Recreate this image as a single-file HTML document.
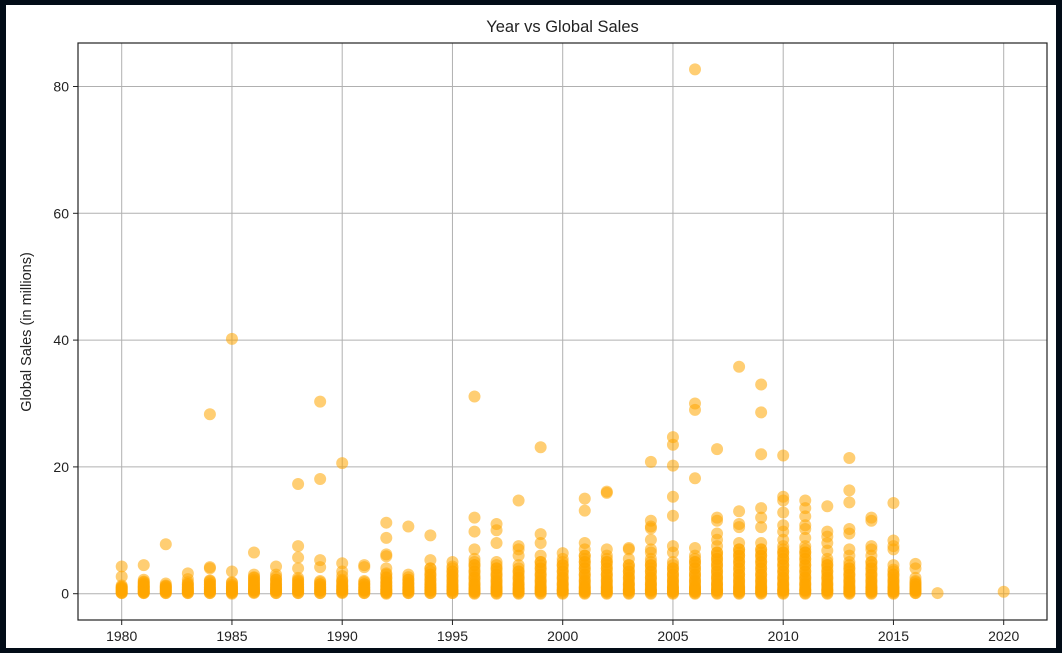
<!DOCTYPE html>
<html><head><meta charset="utf-8"><style>
html,body{margin:0;padding:0;background:#020c17;}
#wrap{position:absolute;left:0;top:0;width:1062px;height:653px;background:#020c17;}
svg{position:absolute;left:0;top:0;}
text{font-family:"Liberation Sans","DejaVu Sans",sans-serif;fill:#222;}
</style></head><body>
<div id="wrap">
<svg id="chart" width="1062" height="653"></svg>
</div>
<script>
const xTicks = [1980,1985,1990,1995,2000,2005,2010,2015,2020];
const yTicks = [0,20,40,60,80];
const years = [1980,1981,1982,1983,1984,1985,1986,1987,1988,1989,1990,1991,1992,1993,1994,1995,1996,1997,1998,1999,2000,2001,2002,2003,2004,2005,2006,2007,2008,2009,2010,2011,2012,2013,2014,2015,2016,2017,2020];
const salesByYear = [
[4.3,2.7,1.3,1.0,0.8,0.5,0.2,0.1],
[4.5,2.2,1.8,1.5,1.2,1.0,0.7,0.4,0.2,0.1],
[7.8,1.6,1.2,0.9,0.6,0.3,0.1],
[3.2,2.3,1.5,1.0,0.6,0.3,0.1],
[28.3,4.2,4.0,2.0,1.5,1.0,0.6,0.3,0.1],
[40.2,3.5,1.8,1.2,0.8,0.5,0.2,0.0],
[6.5,3.0,2.5,2.0,1.5,1.0,0.5,0.2],
[4.3,3.0,2.2,1.5,1.0,0.5,0.1],
[17.3,7.5,5.7,4.0,2.5,2.0,1.5,1.0,0.5,0.1],
[30.3,18.1,5.3,4.2,2.0,1.5,1.0,0.5,0.1],
[20.6,4.8,3.5,2.8,2.0,1.2,0.6,0.2],
[4.5,4.2,2.0,1.5,1.0,0.5,0.1],
[11.2,8.8,6.2,5.9,4.0,3.2,2.5,1.8,1.2,0.6,0.2,0.0],
[10.6,3.0,2.2,1.6,1.0,0.5,0.1],
[9.2,5.3,4.0,3.0,2.2,1.5,1.0,0.5,0.1],
[5.0,4.3,3.5,2.8,2.0,1.2,0.5,0.1],
[31.1,12.0,9.8,7.0,5.5,4.5,3.5,2.5,1.5,0.8,0.3,0.0],
[11.0,10.0,8.0,5.0,4.0,3.0,2.0,1.0,0.4,0.0],
[14.7,7.5,7.0,6.0,4.5,3.5,2.5,1.5,0.8,0.3,0.0],
[23.1,9.4,8.0,6.0,5.0,4.0,3.0,2.0,1.0,0.4,0.0],
[6.4,5.5,4.5,3.5,2.5,1.5,0.5,0.0],
[15.0,13.1,8.0,7.0,6.0,5.0,4.0,3.0,2.0,1.0,0.3,0.0],
[16.1,15.9,7.0,6.0,5.0,4.0,3.0,2.0,1.0,0.3,0.0],
[7.2,7.0,5.5,4.5,3.5,2.5,1.5,0.5,0.0],
[20.8,11.5,10.6,10.3,8.5,7.0,6.5,5.5,4.5,3.5,2.5,1.5,0.5,0.0],
[24.7,23.5,20.2,15.3,12.3,7.5,6.5,5.0,4.0,3.0,2.0,1.0,0.3,0.0],
[82.7,30.0,29.0,18.2,7.2,6.0,5.0,4.0,3.0,2.0,1.0,0.3,0.0],
[22.8,12.0,11.5,9.5,8.5,7.5,6.5,5.5,4.5,3.5,2.5,1.5,0.5,0.0],
[35.8,13.0,11.0,10.5,8.0,7.0,6.0,5.0,4.0,3.0,2.0,1.0,0.3,0.0],
[33.0,28.6,22.0,13.5,12.0,10.5,8.0,7.0,6.0,5.0,4.0,3.0,2.0,1.0,0.3,0.0],
[21.8,15.3,14.7,12.8,10.8,9.8,8.5,7.5,6.5,5.5,4.5,3.5,2.5,1.5,0.5,0.0],
[14.7,13.5,12.2,10.8,10.2,8.8,7.5,6.5,5.5,4.5,3.5,2.5,1.5,0.5,0.0],
[13.8,9.8,9.0,8.0,6.8,5.5,4.5,3.5,2.5,1.5,0.5,0.0],
[21.4,16.3,14.4,10.2,9.5,7.0,6.0,5.0,4.0,3.0,2.0,1.0,0.3,0.0],
[12.0,11.5,7.5,7.0,6.0,5.0,4.0,3.0,2.0,1.0,0.3,0.0],
[14.3,8.4,7.5,7.0,4.5,3.8,3.0,2.0,1.0,0.3,0.0],
[4.7,4.0,2.5,2.0,1.5,1.0,0.5,0.1],
[0.1],
[0.3]
];
// many low-selling titles per year (dense bulk near zero)
const bulkByYear = [
[0.1,0.3,0.5,0.7,0.9,1.1],
[0.1,0.3,0.5,0.7,0.9,1.1,1.3,1.6,1.9],
[0.1,0.3,0.5,0.7,0.9,1.1,1.3],
[0.1,0.3,0.5,0.7,0.9,1.2,1.5,1.8],
[0.1,0.3,0.5,0.7,0.9,1.2,1.5,1.8,2.1],
[0.1,0.3,0.5,0.7,0.9,1.1,1.4,1.7],
[0.1,0.3,0.5,0.7,0.9,1.2,1.5,1.8,2.2,2.6],
[0.1,0.3,0.5,0.7,0.9,1.2,1.5,1.8,2.2,2.6],
[0.1,0.3,0.5,0.7,0.9,1.2,1.5,1.8,2.2],
[0.1,0.3,0.5,0.7,0.9,1.2,1.5,1.8],
[0.1,0.3,0.5,0.7,0.9,1.2,1.5,1.8,2.2],
[0.1,0.3,0.5,0.7,0.9,1.2,1.5,1.8],
[0.1,0.3,0.5,0.7,0.9,1.2,1.5,1.8,2.2,2.6,3.0],
[0.1,0.3,0.5,0.7,0.9,1.2,1.5,1.8,2.2,2.6],
[0.1,0.3,0.5,0.7,0.9,1.2,1.5,1.8,2.2,2.6,3.0,3.5,4.0],
[0.1,0.3,0.5,0.7,0.9,1.2,1.5,1.8,2.2,2.6,3.0,3.5,4.0],
[0.1,0.3,0.5,0.7,0.9,1.2,1.5,1.8,2.2,2.6,3.0,3.5,4.0,4.5,5.0],
[0.1,0.3,0.5,0.7,0.9,1.2,1.5,1.8,2.2,2.6,3.0,3.5,4.0,4.5],
[0.1,0.3,0.5,0.7,0.9,1.2,1.5,1.8,2.2,2.6,3.0,3.5,4.0],
[0.1,0.3,0.5,0.7,0.9,1.2,1.5,1.8,2.2,2.6,3.0,3.5,4.0,4.5,5.0],
[0.1,0.3,0.5,0.7,0.9,1.2,1.5,1.8,2.2,2.6,3.0,3.5,4.0,4.5,5.0],
[0.1,0.3,0.5,0.7,0.9,1.2,1.5,1.8,2.2,2.6,3.0,3.5,4.0,4.5,5.0,5.5,6.0],
[0.1,0.3,0.5,0.7,0.9,1.2,1.5,1.8,2.2,2.6,3.0,3.5,4.0,4.5,5.0,5.5],
[0.1,0.3,0.5,0.7,0.9,1.2,1.5,1.8,2.2,2.6,3.0,3.5,4.0,4.5],
[0.1,0.3,0.5,0.7,0.9,1.2,1.5,1.8,2.2,2.6,3.0,3.5,4.0,4.5,5.0],
[0.1,0.3,0.5,0.7,0.9,1.2,1.5,1.8,2.2,2.6,3.0,3.5,4.0,4.5],
[0.1,0.3,0.5,0.7,0.9,1.2,1.5,1.8,2.2,2.6,3.0,3.5,4.0,4.5,5.0,5.5],
[0.1,0.3,0.5,0.7,0.9,1.2,1.5,1.8,2.2,2.6,3.0,3.5,4.0,4.5,5.0,5.5,6.0,6.5],
[0.1,0.3,0.5,0.7,0.9,1.2,1.5,1.8,2.2,2.6,3.0,3.5,4.0,4.5,5.0,5.5,6.0,6.5,7.0],
[0.1,0.3,0.5,0.7,0.9,1.2,1.5,1.8,2.2,2.6,3.0,3.5,4.0,4.5,5.0,5.5,6.0,6.5,7.0],
[0.1,0.3,0.5,0.7,0.9,1.2,1.5,1.8,2.2,2.6,3.0,3.5,4.0,4.5,5.0,5.5,6.0,6.5,7.0],
[0.1,0.3,0.5,0.7,0.9,1.2,1.5,1.8,2.2,2.6,3.0,3.5,4.0,4.5,5.0,5.5,6.0,6.5,7.0],
[0.1,0.3,0.5,0.7,0.9,1.2,1.5,1.8,2.2,2.6,3.0,3.5,4.0,4.5,5.0],
[0.1,0.3,0.5,0.7,0.9,1.2,1.5,1.8,2.2,2.6,3.0,3.5,4.0,4.5],
[0.1,0.3,0.5,0.7,0.9,1.2,1.5,1.8,2.2,2.6,3.0,3.5,4.0,4.5,5.0],
[0.1,0.3,0.5,0.7,0.9,1.2,1.5,1.8,2.2,2.6,3.0,3.5],
[0.1,0.3,0.5,0.7,0.9,1.2,1.5,1.8],
[],
[]
];

const NS = 'http://www.w3.org/2000/svg';
const svg = document.getElementById('chart');
const L = 78, R = 1047, T = 43, B = 620;
function xs(v){ return 121.7 + (v - 1980) * 22.05; }
function ys(v){ return 593.7 - v * 6.34; }
function mk(tag, attrs){ const e = document.createElementNS(NS, tag); for (const k in attrs) e.setAttribute(k, attrs[k]); svg.appendChild(e); return e; }

const bg = mk('rect', {x:6, y:5, width:1050, height:643, fill:'#fff'});



xTicks.forEach(t => {
  const g = mk('line', {x1:xs(t), x2:xs(t), y1:T, y2:B, stroke:'#b0b0b0', 'stroke-width':1});
  
  
  const tk = mk('line', {x1:xs(t), x2:xs(t), y1:B, y2:B+5, stroke:'#222', 'stroke-width':1});
  
  
  const lb = mk('text', {x:xs(t), y:B+21, 'text-anchor':'middle', 'font-size':14});
  lb.textContent = t;
  
  
});
yTicks.forEach(t => {
  const g = mk('line', {x1:L, x2:R, y1:ys(t), y2:ys(t), stroke:'#b0b0b0', 'stroke-width':1});
  
  
  const tk = mk('line', {x1:L-5, x2:L, y1:ys(t), y2:ys(t), stroke:'#222', 'stroke-width':1});
  
  
  const lb = mk('text', {x:L-9, y:ys(t)+5, 'text-anchor':'end', 'font-size':14});
  lb.textContent = t;
  
  
});

function drawPoint(yr, v){
  const c = mk('circle', {cx:xs(yr), cy:ys(v), r:6, fill:'#ffa500', 'fill-opacity':0.55});
  
  
}
years.forEach((yr, i) => {
  salesByYear[i].forEach(v => drawPoint(yr, v));
  bulkByYear[i].forEach(v => drawPoint(yr, v));
});

const frame = mk('rect', {x:L, y:T, width:R-L, height:B-T, fill:'none', stroke:'#222', 'stroke-width':1.2});



const title = mk('text', {x:(L+R)/2, y:32, 'text-anchor':'middle', 'font-size':16.5});
title.textContent = 'Year vs Global Sales';



const yl = mk('text', {x:0, y:0, 'text-anchor':'middle', 'font-size':14.5, transform:'translate(31,332) rotate(-90)'});
yl.textContent = 'Global Sales (in millions)';


</script>
</body></html>
